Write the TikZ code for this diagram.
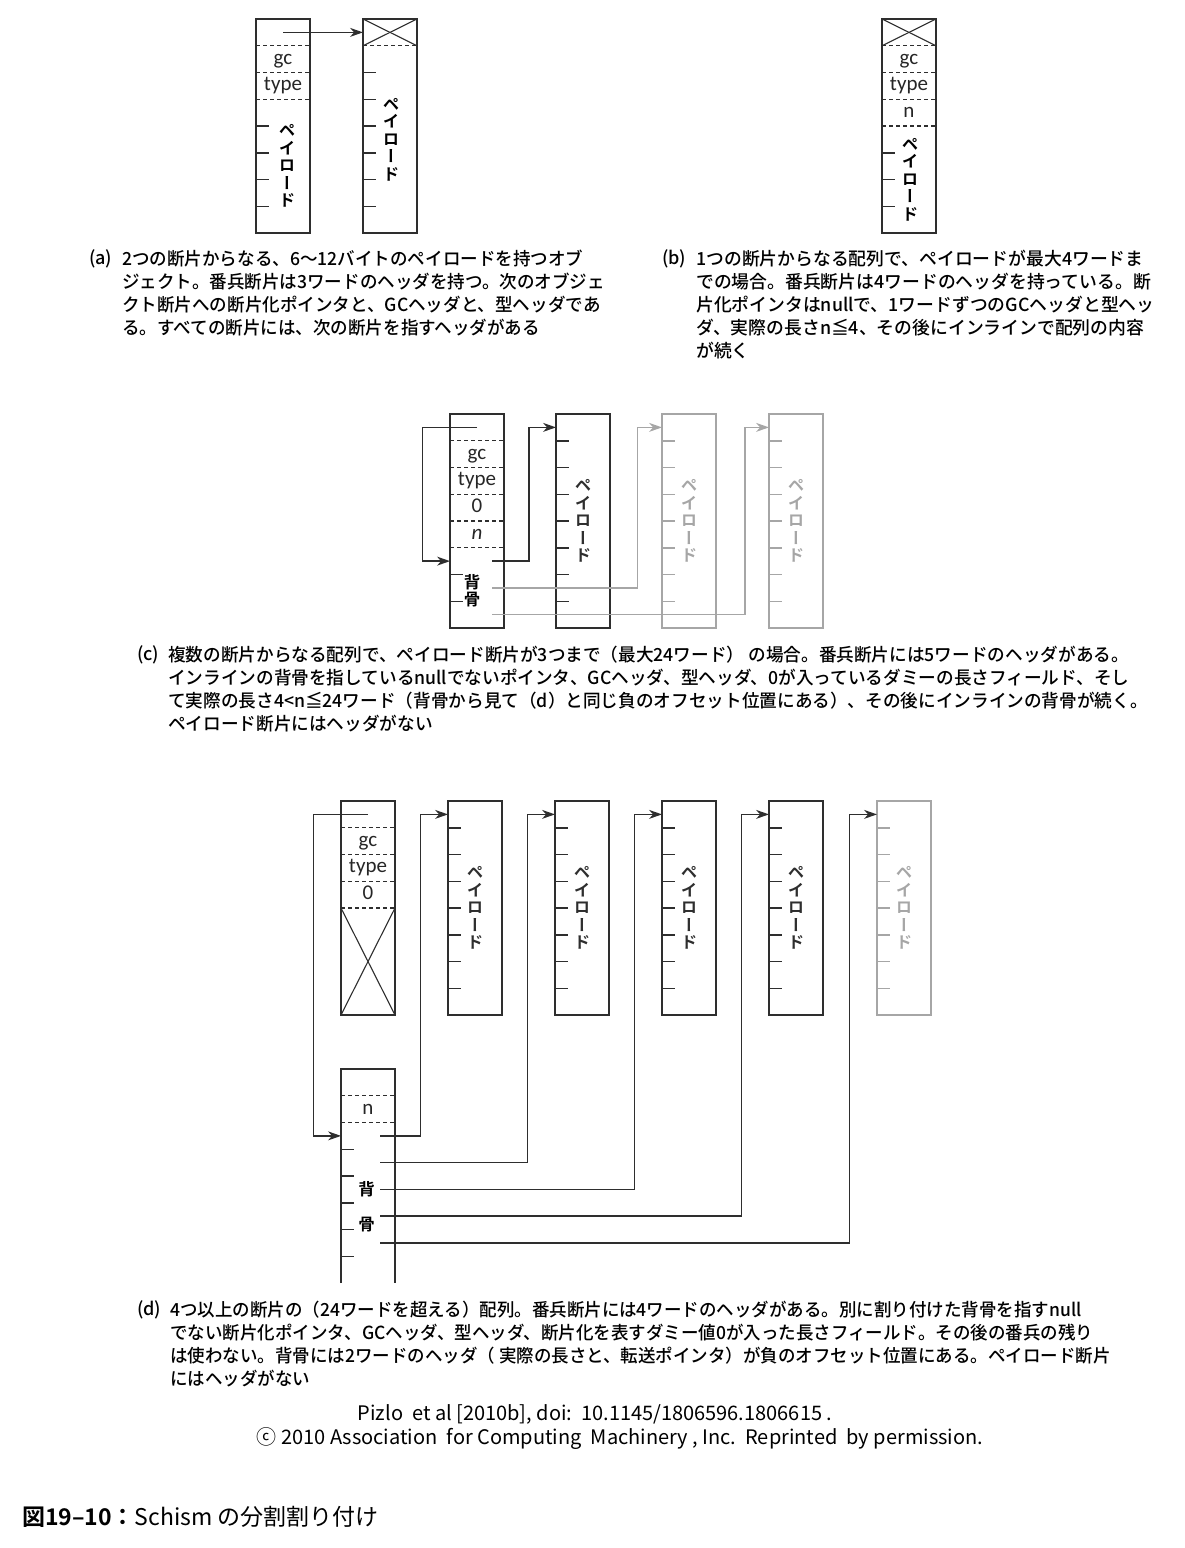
\documentclass[tikz,border=0pt]{standalone}
\usepackage{fontspec}
\setmainfont{Noto Sans CJK JP Medium}[BoldFont={Noto Sans CJK JP Bold}]
\newfontfamily\plainfont{Noto Sans CJK JP}
\newfontfamily\labelfont{Carlito}
\newfontfamily\tatefont[RawFeature=+vert]{Noto Sans CJK JP Bold}
\newfontfamily\capA[FakeStretch=0.975]{Noto Sans CJK JP Medium}
\newfontfamily\capB[FakeStretch=0.99]{Noto Sans CJK JP Medium}
\newfontfamily\capC[FakeStretch=0.98]{Noto Sans CJK JP Medium}
\newfontfamily\capD[FakeStretch=0.972]{Noto Sans CJK JP Medium}
\usetikzlibrary{arrows.meta,calc}

\definecolor{ink}{HTML}{2E2E2E}
\definecolor{faded}{HTML}{A6A6A6}

\newcommand{\cellh}{26.75}

\tikzset{
  seg/.style={draw=ink, line width=2.1pt, minimum width=54pt, minimum height=214pt,
    inner sep=0pt, outer sep=0pt, anchor=north west},
  tickline/.style={ink, line width=1.5pt},
  dashsep/.style={ink, line width=1.1pt, dash pattern=on 4pt off 3pt},
  crossline/.style={ink, line width=1.1pt},
  ptr/.style={ink, line width=1.4pt},
  lbl/.style={font=\labelfont\fontsize{21}{21}\selectfont, text=black!85, inner sep=0pt,
    text height=14pt, text depth=4pt},
  pay/.style={font=\tatefont\fontsize{16.5}{17.5}\selectfont, align=center, inner sep=0pt},
  captext/.style={font=\fontsize{18}{23}\selectfont, align=left, inner sep=0pt, anchor=west},
}

\begin{document}
\begin{tikzpicture}[>={Stealth[length=13pt,width=9pt]}, x=1pt, y=-1pt]
    \useasboundingbox (0,0) rectangle (1185,1548);

    % === (a): object of two segments ===
    \node[seg] (a1) at (256,19) {};
    \node[seg] (a2) at (363,19) {};
    \foreach \k in {1,2,3}
        \draw[dashsep] ($(a1.north west)+(0,\k*\cellh)$) -- ++(54,0);
    \foreach \k in {4,...,7}
        \draw[tickline] ($(a1.north west)+(0,\k*\cellh)$) -- ++(13,0);
    \node[lbl] (a1gc) at ($(a1.north)+(0,1.5*\cellh)$) {gc};
    \node[lbl] (a1type) at ($(a1.north)+(0,2.5*\cellh)$) {type};
    \node[pay] (a1pay) at ($(a1.south)+(4,-2.5*\cellh)$) {ペ\\イ\\ロ\\ー\\ド};

    % Next segment, header unused
    \draw[crossline] (a2.north west) -- ($(a2.north east)+(0,\cellh)$);
    \draw[crossline] (a2.north east) -- ($(a2.north west)+(0,\cellh)$);
    \draw[dashsep] ($(a2.north west)+(0,\cellh)$) -- ++(54,0);
    \foreach \k in {2,...,7}
        \draw[tickline] ($(a2.north west)+(0,\k*\cellh)$) -- ++(13,0);
    \node[pay] (a2pay) at ($(a2.south)+(1,-3.5*\cellh)$) {ペ\\イ\\ロ\\ー\\ド};

    \coordinate (a1ptr) at ($(a1.north)+(0,0.5*\cellh)$);
    \draw[ptr,->] (a1ptr) -- (a1ptr -| a2.west);

    \node[captext] (capAtag) at (89,259) {(a)};
    \node[captext, font=\capA\fontsize{18}{23}\selectfont] (capA) at (122,293.5)
        {2つの断片からなる、6〜12バイトのペイロードを持つオブ\\
        ジェクト。番兵断片は3ワードのヘッダを持つ。次のオブジェ\\
        クト断片への断片化ポインタと、GCヘッダと、型ヘッダであ\\
        る。すべての断片には、次の断片を指すヘッダがある};

    % === (b): array of one segment ===
    \node[seg] (b1) at (882,19) {};
    \draw[crossline] (b1.north west) -- ($(b1.north east)+(0,\cellh)$);
    \draw[crossline] (b1.north east) -- ($(b1.north west)+(0,\cellh)$);
    \foreach \k in {1,...,4}
        \draw[dashsep] ($(b1.north west)+(0,\k*\cellh)$) -- ++(54,0);
    \foreach \k in {5,6,7}
        \draw[tickline] ($(b1.north west)+(0,\k*\cellh)$) -- ++(13,0);
    \node[lbl] (b1gc) at ($(b1.north)+(0,1.5*\cellh)$) {gc};
    \node[lbl] (b1type) at ($(b1.north)+(0,2.5*\cellh)$) {type};
    \node[lbl] (b1n) at ($(b1.north)+(0,3.5*\cellh)$) {n};
    \node[pay] (b1pay) at ($(b1.south)+(1,-2*\cellh)$) {ペ\\イ\\ロ\\ー\\ド};

    \node[captext] (capBtag) at (662,259) {(b)};
    \node[captext, font=\capB\fontsize{18}{23}\selectfont] (capB) at (696,305)
        {1つの断片からなる配列で、ペイロードが最大4ワードま\\
        での場合。番兵断片は4ワードのヘッダを持っている。断\\
        片化ポインタはnullで、1ワードずつのGCヘッダと型ヘッ\\
        ダ、実際の長さn≦4、その後にインラインで配列の内容\\
        が続く};

    % === (c): up to three payload segments, inline spine ===
    \node[seg] (c0) at (450,414) {};
    \node[seg] (c1) at (556,414) {};
    \node[seg, draw=faded] (c2) at (662,414) {};
    \node[seg, draw=faded] (c3) at (769,414) {};
    \foreach \k in {1,...,5}
        \draw[dashsep] ($(c0.north west)+(0,\k*\cellh)$) -- ++(54,0);
    \foreach \k in {6,7}
        \draw[tickline] ($(c0.north west)+(0,\k*\cellh)$) -- ++(13,0);
    \node[lbl] (c0gc) at ($(c0.north)+(0,1.5*\cellh)$) {gc};
    \node[lbl] (c0type) at ($(c0.north)+(0,2.5*\cellh)$) {type};
    \node[lbl] (c0zero) at ($(c0.north)+(0,3.5*\cellh)$) {0};
    \node[lbl] (c0n) at ($(c0.north)+(0,4.5*\cellh)$) {\textit{n}};
    \node[pay] (c0spine) at ($(c0.north)+(-5,6.6*\cellh)$) {背\\骨};

    \foreach \b/\c in {c1/ink, c2/faded, c3/faded} {
        \foreach \k in {1,...,7}
            \draw[tickline, \c] ($(\b.north west)+(0,\k*\cellh)$) -- ++(13,0);
        \node[pay, text=\c] (pay\b) at (\b.center) {ペ\\イ\\ロ\\ー\\ド};
        \coordinate (in\b) at ($(\b.north west)+(0,0.5*\cellh)$);
    }

    \coordinate (c0top) at ($(c0.north)+(0,0.5*\cellh)$);
    \coordinate (c0in) at ($(c0.north west)+(0,5.5*\cellh)$);
    \coordinate (c0p1) at ($(c0.north east)+(-12,5.5*\cellh)$);
    \coordinate (c0p2) at ($(c0.north east)+(-12,6.5*\cellh)$);
    \coordinate (c0p3) at ($(c0.north east)+(-12,7.5*\cellh)$);
    \draw[ptr,->] (c0top) -| ($(c0in)+(-27.7,0)$) -- (c0in);
    \draw[ptr,->] (c0p1) -| ($(inc1)+(-27,0)$) -- (inc1);
    \draw[ptr,->,faded] (c0p2) -| ($(inc2)+(-24.3,0)$) -- (inc2);
    \draw[ptr,->,faded] (c0p3) -| ($(inc3)+(-24,0)$) -- (inc3);

    \node[captext] (capCtag) at (137,655) {(c)};
    \node[captext, font=\capC\fontsize{18}{23}\selectfont] (capC) at (168,689)
        {複数の断片からなる配列で、ペイロード断片が3つまで（最大24ワード） の場合。番兵断片には5ワードのヘッダがある。\\
        インラインの背骨を指しているnullでないポインタ、GCヘッダ、型ヘッダ、0が入っているダミーの長さフィールド、そし\\
        て実際の長さ4<n≦24ワード（背骨から見て（d）と同じ負のオフセット位置にある）、その後にインラインの背骨が続く。\\
        ペイロード断片にはヘッダがない};

    % === (d): four or more segments, separate spine ===
    \node[seg] (d0) at (341,801) {};
    \foreach \k in {1,...,4}
        \draw[dashsep] ($(d0.north west)+(0,\k*\cellh)$) -- ++(54,0);
    \node[lbl] (d0gc) at ($(d0.north)+(0,1.5*\cellh)$) {gc};
    \node[lbl] (d0type) at ($(d0.north)+(0,2.5*\cellh)$) {type};
    \node[lbl] (d0zero) at ($(d0.north)+(0,3.5*\cellh)$) {0};
    \draw[crossline] ($(d0.north west)+(0,4*\cellh)$) -- (d0.south east);
    \draw[crossline] ($(d0.north east)+(0,4*\cellh)$) -- (d0.south west);

    \foreach \i/\x/\c in {1/448/ink, 2/555/ink, 3/662/ink, 4/769/ink, 5/877/faded} {
        \node[seg, draw=\c] (d\i) at (\x,801) {};
        \foreach \k in {1,...,7}
            \draw[tickline, \c] ($(d\i.north west)+(0,\k*\cellh)$) -- ++(13,0);
        \node[pay, text=\c] (payd\i) at (d\i.center) {ペ\\イ\\ロ\\ー\\ド};
    }

    % Spine, open at the bottom
    \node[seg, draw=none] (dB) at (341,1069) {};
    \draw[ink, line width=2.1pt] (dB.south west) -- (dB.north west) -- (dB.north east) -- (dB.south east);
    \foreach \k in {1,2}
        \draw[dashsep] ($(dB.north west)+(0,\k*\cellh)$) -- ++(54,0);
    \foreach \k in {3,...,7}
        \draw[tickline] ($(dB.north west)+(0,\k*\cellh)$) -- ++(13,0);
    \node[lbl] (dBn) at ($(dB.north)+(0,1.5*\cellh)$) {n};
    \node[pay] (dBback) at ($(dB.north)+(-1.5,4.5*\cellh)$) {背};
    \node[pay] (dBbone) at ($(dB.north)+(-1.5,5.8*\cellh)$) {骨};

    \coordinate (d0top) at ($(d0.north)+(0,0.5*\cellh)$);
    \coordinate (dBin) at ($(dB.north west)+(0,2.5*\cellh)$);
    \draw[ptr,->] (d0top) -| ($(dBin)+(-27.7,0)$) -- (dBin);
    \foreach \i in {1,...,5} {
        \coordinate (dBp\i) at ($(dB.north east)+(-15,\i*\cellh+1.5*\cellh)$);
        \coordinate (din\i) at ($(d\i.north west)+(0,0.5*\cellh)$);
        \draw[ptr,->] (dBp\i) -| ($(din\i)+(-27.5,0)$) -- (din\i);
    }

    \node[captext] (capDtag) at (137,1310) {(d)};
    \node[captext, font=\capD\fontsize{18}{23}\selectfont] (capD) at (170,1344.5)
        {4つ以上の断片の（24ワードを超える）配列。番兵断片には4ワードのヘッダがある。別に割り付けた背骨を指すnull\\
        でない断片化ポインタ、GCヘッダ、型ヘッダ、断片化を表すダミー値0が入った長さフィールド。その後の番兵の残り\\
        は使わない。背骨には2ワードのヘッダ（ 実際の長さと、転送ポインタ）が負のオフセット位置にある。ペイロード断片\\
        にはヘッダがない};

    % Credit and figure title
    \node[inner sep=0pt, font=\plainfont\fontsize{20}{20}\selectfont] (credit1) at (595,1414)
        {Pizlo\ \ et al [2010b], doi:\ \ 10.1145/1806596.1806615\ .};
    \node[inner sep=0pt, font=\plainfont\fontsize{20}{20}\selectfont] (credit2) at (620,1439)
        {ⓒ 2010 Association\ \ for Computing\ \ Machinery , Inc.\ \ Reprinted\ \ by permission.};
    \node[anchor=west, inner sep=0pt, font=\fontsize{23}{23}\selectfont] (figtitle) at (22,1517)
        {\textbf{図19–10：}{\plainfont Schism の分割割り付け}};
\end{tikzpicture}
\end{document}
